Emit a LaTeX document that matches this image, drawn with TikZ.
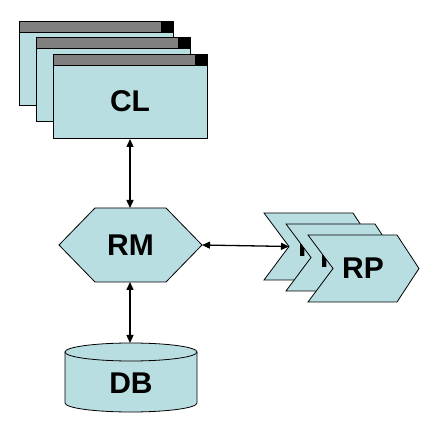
\documentclass[tikz,border=0pt]{standalone}
\usepackage{fontspec}
\setmainfont{Liberation Sans}
\usetikzlibrary{arrows.meta}
\definecolor{boxfill}{RGB}{185,222,226}
\definecolor{bargray}{RGB}{128,128,128}
\begin{document}
\begin{tikzpicture}[x=1pt,y=-1pt,
  outline/.style={draw=black,line width=0.8pt},
  lbl/.style={font=\bfseries\fontsize{30}{32}\selectfont,inner sep=0pt},
  link/.style={line width=1.3pt,{Triangle[length=8pt,width=7pt]}-{Triangle[length=8pt,width=7pt]}}]
\useasboundingbox (0,0) rectangle (434,430);
% CL windows
\foreach \i in {0,1,2}{
  \begin{scope}[shift={(17*\i,16.5*\i)}]
    \fill[boxfill] (19,21) rectangle (173,105);
    \fill[bargray] (19,21) rectangle (161,32);
    \fill[black] (161,21) rectangle (173,32);
    \draw[outline] (19,21) rectangle (173,105);
    \draw[outline] (19,32) -- (173,32);
  \end{scope}
}
\node[lbl] (CL) at (130,101) {CL};
\coordinate (CLb) at (130,139);
% RM hexagon
\draw[outline,fill=boxfill] (59,245) -- (95,208) -- (166,208) -- (202,245) -- (166,282) -- (95,282) -- cycle;
\node[lbl] (RM) at (130.5,245) {RM};
\coordinate (RMt) at (130,208);
\coordinate (RMb) at (130,282);
\coordinate (RMr) at (202,245);
% RP chevrons
\foreach \i/\nm in {0/RPa,1/RPb,2/RPc}{
  \begin{scope}[shift={(22*\i,11*\i)}]
    \draw[outline,fill=boxfill] (264,213) -- (353,213) -- (375,246.5) -- (353,280) -- (264,280) -- (289,246.5) -- cycle;
    \node[lbl] (\nm) at (319,246.5) {RP};
  \end{scope}
}
\coordinate (RPl) at (289,246.5);
% DB cylinder
\draw[outline,fill=boxfill] (65,352) -- (65,403) arc[start angle=180,end angle=0,x radius=66,y radius=9] -- (197,352) -- cycle;
\draw[outline,fill=boxfill] (131,352) ellipse[x radius=66,y radius=9];
\node[lbl] (DB) at (131,383) {DB};
\coordinate (DBt) at (130,343);
% connectors
\draw[link] (CLb) -- (RMt);
\draw[link] (RMb) -- (DBt);
\draw[link] (RMr) -- (RPl);
\end{tikzpicture}
\end{document}
